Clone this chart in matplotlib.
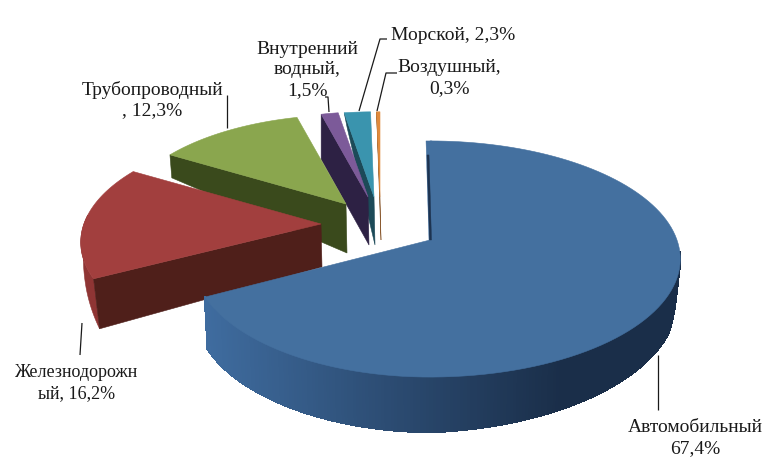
import numpy as np
import matplotlib
matplotlib.use("Agg")
import matplotlib.pyplot as plt
from matplotlib.patches import Polygon
from matplotlib.colors import to_rgb

plt.rcParams['font.family'] = ['Liberation Serif', 'DejaVu Serif']

categories = ["Автомобильный", "Железнодорожный", "Трубопроводный",
              "Внутренний водный", "Морской", "Воздушный"]
values = [67.4, 16.2, 12.3, 1.5, 2.3, 0.3]
labels = ["Автомобильный\n67,4%", "Железнодорожн\nый, 16,2%", "Трубопроводный\n, 12,3%",
          "Внутренний\nводный,\n1,5%", "Морской, 2,3%", "Воздушный,\n0,3%"]

top_colors = ["#44709f", "#a23f3e", "#8aa64e", "#7c5a99", "#3a94ae", "#e08a3c"]
wall_colors = ["#1d3350", "#4f1f1a", "#3a4a1c", "#2d2144", "#1c4a58", "#8a5a30"]
arc_colors = [None, "#8f3534", None, None, None, None]

# explode: where each slice's point ends up, and its radius
apex_x = [430, 321, 346, 368, 374, 380]
apex_y = [240, 224, 204, 197, 197, 197]
radius = [1.0, 0.96, 0.9, 0.86, 0.86, 0.86]
left_scale = [0.95, 1, 1, 1, 1, 1]
drop_apex = [0, 43, 49, 48, 48, 43]
drop_rim = [0, 50, 23, 45, 15, 0]
wall_shift = [0, 0.12, 0.08, 0, 0.2, 0]

A, B, K = 247, 115, 0.161  # ellipse + perspective


def rim(theta, i):
    t = np.radians(theta)
    u, v = np.sin(t), np.cos(t)
    s = radius[i] / (1 + K * v)
    x = A * u * s
    return apex_x[i] + np.where(x < 0, x * left_scale[i], x), apex_y[i] - B * v * s


fig = plt.figure(figsize=(7.62, 4.58), dpi=100)
ax = fig.add_axes([0, 0, 1, 1])
ax.set_xlim(0, 762)
ax.set_ylim(458, 0)
ax.axis("off")

ends = np.cumsum(values) * 3.6
starts = np.concatenate([[0], ends[:-1]])

for i in range(len(values) - 1, -1, -1):
    x0, y0 = apex_x[i], apex_y[i]
    th = np.linspace(starts[i], ends[i], 120)
    xs, ys = rim(th, i)

    if i == 0:
        # front wall with the shading running left to right
        wall_th = np.linspace(96, ends[i], 220)
        d = np.interp(wall_th, [96, 104, 114, 180, ends[i]], [0, 25, 43, 55, 52])
        wx, wy = rim(wall_th, i)
        lx = wx + (x0 - wx) * 0.012
        c_left, c_right = np.array(to_rgb("#3f6c9f")), np.array(to_rgb("#1a2e49"))
        for j in range(len(wall_th) - 1):
            f = np.clip((680 - wx[j]) / 475, 0, 1)
            col = c_right + (c_left - c_right) * np.clip((f - 0.25) / 0.75, 0, 1)
            ax.add_patch(Polygon([(wx[j], wy[j]), (wx[j + 1], wy[j + 1]),
                                  (lx[j + 1], wy[j + 1] + d[j + 1]), (lx[j], wy[j] + d[j])],
                                 closed=True, fc=col, ec=col, lw=1.0, antialiased=False))
    else:
        px, py = rim(starts[i], i)
        if arc_colors[i]:
            arc_th = np.linspace(starts[i], starts[i] + 32, 40)
            ax_x, ax_y = rim(arc_th, i)
            d = np.interp(arc_th, [starts[i], starts[i] + 12, starts[i] + 32], [drop_rim[i], 34, 0])
            low = np.column_stack([ax_x + d * 0.12, ax_y + d])
            ax.add_patch(Polygon(np.vstack([np.column_stack([ax_x, ax_y]), low[::-1]]),
                                 closed=True, fc=arc_colors[i], ec=arc_colors[i], lw=0.4))
        ax.add_patch(Polygon([(px, py), (x0, y0), (x0 + 1, y0 + drop_apex[i]),
                              (px + drop_rim[i] * wall_shift[i], py + drop_rim[i])],
                             closed=True, fc=wall_colors[i], ec=wall_colors[i], lw=0.4))

    ax.add_patch(Polygon(np.vstack([[x0, y0], np.column_stack([xs, ys])]),
                         closed=True, fc=top_colors[i], ec=top_colors[i], lw=0.4))

    if i == 0:
        # thin dark sliver on the start side, drawn over the top
        px, py = rim(starts[i], i)
        ax.add_patch(Polygon([(px - 4, py), (px + 2, py), (x0 + 1, y0), (x0 - 1, y0 + 1)],
                             closed=True, fc=top_colors[i], ec=top_colors[i], lw=0.3))
        ax.add_patch(Polygon([(px - 3, py + 14), (px - 1, py + 14), (x0 + 1.5, y0), (x0 - 0.5, y0)],
                             closed=True, fc=wall_colors[i], ec=wall_colors[i], lw=0.3))

# leader lines
leader_x = [[658, 658], [82, 80], [227, 227], [325, 328, 329], [387, 380, 359], [397, 386, 377]]
leader_y = [[355, 410], [323, 355], [95, 128], [97, 97, 112], [39, 39, 111], [73, 73, 111]]
for lx, ly in zip(leader_x, leader_y):
    ax.plot(lx, ly, color="#1a1a1a", lw=0.9, solid_capstyle="butt")

label_x = [695, 77, 152, 307, 391, 449]
label_y = [438, 383, 100, 70, 35, 78]
label_ha = ["center", "center", "center", "center", "left", "center"]
label_size = [14, 13, 14, 14, 14, 14]
for s, x, y, ha, fs in zip(labels, label_x, label_y, label_ha, label_size):
    ax.text(x, y, s, ha=ha, va="center", fontsize=fs, linespacing=1.25,
            color="#1a1a1a", multialignment="center")

fig.savefig("out.png", dpi=100)
